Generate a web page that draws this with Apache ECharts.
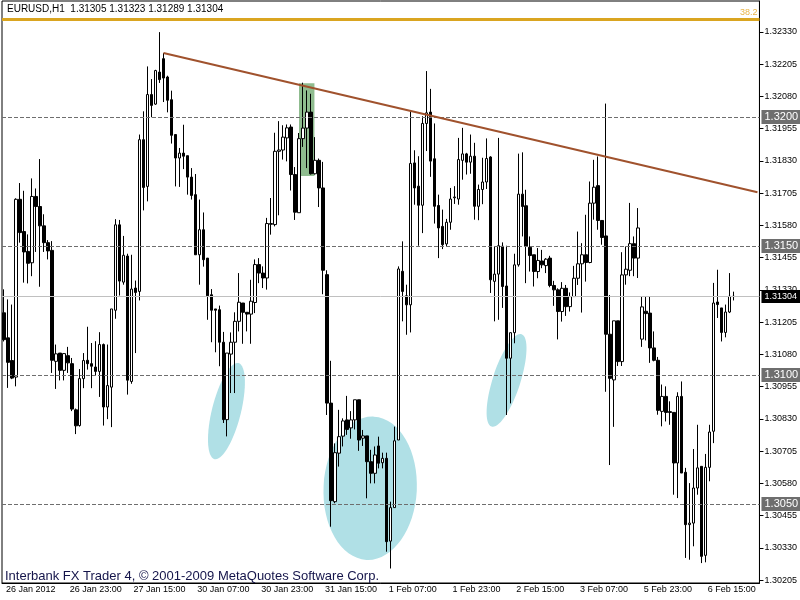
<!DOCTYPE html>
<html>
<head>
<meta charset="utf-8">
<script src="https://cdn.jsdelivr.net/npm/echarts@6.0.0/dist/echarts.min.js"></script>
<style>html,body{margin:0;padding:0;background:#fff}#c{width:800px;height:600px}</style>
</head>
<body>
<div id="c"></div>
<script>
// ---------------- DATA (EURUSD H1) ----------------
const openPrices = [
1.31241,1.31144,1.31056,1.30992,1.31681,1.31556,1.31479,1.31435,1.31692,1.31653,
1.31578,1.31513,1.31483,1.31053,1.31085,1.31018,1.31075,1.31044,1.30865,1.30804,
1.30986,1.31057,1.31044,1.31031,1.31014,1.31118,1.30876,1.30953,1.31251,1.31582,
1.31360,1.31461,1.30975,1.31337,1.31324,1.31912,1.31731,1.32087,1.32050,1.32174,
1.32226,1.32155,1.32067,1.31932,1.31841,1.31860,1.31850,1.31767,1.31699,1.31466,
1.31563,1.31453,1.31311,1.31256,1.31253,1.31127,1.30827,1.31081,1.31127,1.31208,
1.31279,1.31243,1.31236,1.31281,1.31428,1.31395,1.31376,1.31584,1.31583,1.31867,
1.31872,1.31919,1.31961,1.31777,1.31629,1.31916,1.31957,1.32019,1.31780,1.31832,
1.31725,1.31389,1.30891,1.30509,1.30697,1.30763,1.30826,1.30795,1.30826,1.30904,
1.30755,1.30764,1.30664,1.30619,1.30725,1.30660,1.30677,1.30356,1.30486,1.30748,
1.31402,1.31307,1.31272,1.31822,1.31732,1.31658,1.31975,1.32019,1.31838,1.31657,
1.31576,1.31508,1.31592,1.31687,1.31682,1.31832,1.31857,1.31825,1.31848,1.31654,
1.31719,1.31748,1.31845,1.31363,1.31391,1.31499,1.31345,1.31065,1.31164,1.31427,
1.31701,1.31656,1.31495,1.31466,1.31401,1.31442,1.31424,1.31453,1.31347,1.31330,
1.31246,1.31336,1.31265,1.31304,1.31375,1.31431,1.31466,1.31436,1.31666,1.31734,
1.31599,1.31539,1.31158,1.30981,1.31210,1.31052,1.31388,1.31406,1.31509,1.31453,
1.31139,1.31247,1.31240,1.31105,1.31057,1.30859,1.30917,1.30858,1.30855,1.30659,
1.30917,1.30623,1.30420,1.30426,1.30562,1.30646,1.30301,1.30642,1.30782,1.31283,
1.31260,1.31165,1.31244,1.31305
];
const closePrices = [
1.31137,1.31049,1.30988,1.31681,1.31552,1.31477,1.31433,1.31692,1.31653,1.31578,
1.31513,1.31481,1.31057,1.31082,1.31018,1.31083,1.31047,1.30868,1.30803,1.30986,
1.31056,1.31044,1.31034,1.31014,1.31118,1.30876,1.30959,1.31256,1.31582,1.31364,
1.31464,1.30980,1.31333,1.31320,1.31912,1.31727,1.32087,1.32045,1.32180,1.32145,
1.32151,1.32065,1.31929,1.31841,1.31860,1.31848,1.31767,1.31696,1.31466,1.31563,
1.31447,1.31307,1.31251,1.31251,1.31127,1.30827,1.31085,1.31127,1.31208,1.31282,
1.31243,1.31236,1.31286,1.31428,1.31395,1.31376,1.31587,1.31587,1.31867,1.31872,
1.31922,1.31958,1.31777,1.31631,1.31916,1.31957,1.32019,1.31780,1.31832,1.31725,
1.31406,1.30891,1.30513,1.30699,1.30761,1.30822,1.30789,1.30826,1.30904,1.30748,
1.30764,1.30664,1.30619,1.30690,1.30658,1.30677,1.30354,1.30486,1.30745,1.31411,
1.31324,1.31272,1.31820,1.31725,1.31658,1.31975,1.32016,1.31829,1.31654,1.31570,
1.31505,1.31592,1.31682,1.31690,1.31835,1.31857,1.31825,1.31848,1.31654,1.31719,
1.31748,1.31839,1.31369,1.31391,1.31501,1.31343,1.31065,1.31164,1.31427,1.31701,
1.31653,1.31498,1.31463,1.31401,1.31444,1.31427,1.31449,1.31347,1.31330,1.31246,
1.31336,1.31265,1.31304,1.31375,1.31431,1.31466,1.31436,1.31666,1.31728,1.31599,
1.31533,1.31158,1.30987,1.31210,1.31052,1.31388,1.31410,1.31509,1.31453,1.31570,
1.31264,1.31238,1.31105,1.31057,1.30863,1.30917,1.30855,1.30855,1.30659,1.30917,
1.30620,1.30420,1.30426,1.30562,1.30640,1.30297,1.30642,1.30779,1.31279,1.31273,
1.31165,1.31244,1.31305,1.31304
];
const lowPrices = [
1.31130,1.30950,1.30984,1.30956,1.31513,1.31358,1.31355,1.31383,1.31477,1.31342,
1.31477,1.31448,1.31008,1.30946,1.30979,1.30979,1.31008,1.30860,1.30771,1.30800,
1.30949,1.31021,1.30949,1.30997,1.30915,1.30804,1.30829,1.30798,1.31218,1.31308,
1.31350,1.30924,1.30966,1.31085,1.31289,1.31638,1.31673,1.31999,1.32047,1.32132,
1.32058,1.32018,1.31897,1.31731,1.31729,1.31798,1.31699,1.31680,1.31466,1.31350,
1.31420,1.31214,1.31127,1.31088,1.31034,1.30814,1.30762,1.30930,1.30930,1.31169,
1.31121,1.31169,1.31121,1.31240,1.31356,1.31337,1.31331,1.31544,1.31576,1.31619,
1.31835,1.31828,1.31715,1.31601,1.31629,1.31884,1.31802,1.31777,1.31777,1.31651,
1.31313,1.30845,1.30412,1.30503,1.30645,1.30723,1.30768,1.30753,1.30789,1.30706,
1.30725,1.30522,1.30580,1.30580,1.30638,1.30638,1.30315,1.30250,1.30486,1.30748,
1.31208,1.31156,1.31165,1.31660,1.31501,1.31550,1.31868,1.31768,1.31587,1.31453,
1.31488,1.31499,1.31563,1.31663,1.31660,1.31757,1.31777,1.31780,1.31602,1.31600,
1.31662,1.31721,1.31318,1.31208,1.31214,1.31260,1.30845,1.30890,1.31123,1.31420,
1.31537,1.31356,1.31401,1.31343,1.31375,1.31414,1.31395,1.31340,1.31268,1.31138,
1.31207,1.31229,1.31246,1.31304,1.31349,1.31242,1.31362,1.31433,1.31602,1.31563,
1.31505,1.30935,1.30651,1.30799,1.31035,1.31035,1.31350,1.31383,1.31383,1.31376,
1.31109,1.31134,1.31047,1.31053,1.30846,1.30801,1.30820,1.30807,1.30536,1.30523,
1.30620,1.30291,1.30284,1.30336,1.30536,1.30271,1.30274,1.30588,1.30736,1.31221,
1.31130,1.31146,1.31240,1.31289
];
const highPrices = [
1.31332,1.31293,1.31273,1.31685,1.31744,1.31714,1.31545,1.31762,1.31723,1.31837,
1.31623,1.31523,1.31519,1.31118,1.31085,1.31085,1.31109,1.31066,1.30870,1.31023,
1.31085,1.31187,1.31124,1.31131,1.31166,1.31122,1.31118,1.31256,1.31604,1.31601,
1.31539,1.31470,1.31466,1.31366,1.31932,1.32022,1.32196,1.32147,1.32183,1.32329,
1.32248,1.32160,1.32102,1.31932,1.31880,1.31970,1.31850,1.31802,1.31779,1.31680,
1.31630,1.31453,1.31333,1.31256,1.31269,1.31167,1.31085,1.31165,1.31243,1.31395,
1.31279,1.31243,1.31369,1.31448,1.31453,1.31421,1.31609,1.31686,1.31939,1.31984,
1.31968,1.31971,1.31971,1.31806,1.31938,1.32133,1.32103,1.32090,1.31922,1.31839,
1.31826,1.31406,1.31055,1.30735,1.30865,1.30832,1.30919,1.30860,1.30904,1.30904,
1.30787,1.30764,1.30710,1.30723,1.30761,1.30699,1.30699,1.30509,1.30800,1.31421,
1.31518,1.31350,1.32023,1.31871,1.31848,1.32003,1.32178,1.32109,1.31975,1.31699,
1.31641,1.31605,1.31725,1.31732,1.31919,1.31958,1.31861,1.31932,1.31900,1.31738,
1.31842,1.31917,1.31848,1.31500,1.31919,1.31514,1.31501,1.31164,1.31470,1.31858,
1.31863,1.31718,1.31537,1.31466,1.31492,1.31485,1.31453,1.31462,1.31365,1.31336,
1.31360,1.31349,1.31320,1.31423,1.31556,1.31511,1.31621,1.31750,1.31834,1.31847,
1.31599,1.32052,1.31310,1.31210,1.31210,1.31476,1.31498,1.31667,1.31537,1.31647,
1.31305,1.31305,1.31305,1.31169,1.31070,1.30963,1.30956,1.30898,1.30855,1.30933,
1.30975,1.30640,1.30581,1.30713,1.30807,1.30646,1.30694,1.30807,1.31357,1.31408,
1.31260,1.31273,1.31395,1.31323
];
const barSlots = 190;                       // 184 bars + empty chart shift
const xTickIndex  = [0, 16, 32, 48, 64, 80, 96, 112, 128, 144, 160, 176];
const xTickLabels = ['26 Jan 2012','26 Jan 23:00','27 Jan 15:00','30 Jan 07:00','30 Jan 23:00',
                     '31 Jan 15:00','1 Feb 07:00','1 Feb 23:00','2 Feb 15:00','3 Feb 07:00',
                     '5 Feb 23:00','6 Feb 15:00'];
const yTickValues = [1.32330,1.32205,1.32080,1.31955,1.31830,1.31705,1.31580,1.31455,1.31330,
                     1.31205,1.31080,1.30955,1.30830,1.30705,1.30580,1.30455,1.30330,1.30205];
const levelLines = [1.3200, 1.3150, 1.3100, 1.3050];
const lastPrice = 1.31304;
const headerText = 'EURUSD,H1  1.31305 1.31323 1.31289 1.31304';
const footerText = 'Interbank FX Trader 4, \u00A9 2001-2009 MetaQuotes Software Corp.';
const fiboLevel = 1.32378, fiboLabel = '38.2';
const trendStart = [40, 1.32248], trendEnd = [189, 1.31708];
// annotations in data space: [barIndex, price, halfWidthBars, halfHeightPips, tiltDeg]
const ellipses = [[55.8, 1.30860, 3.63, 19.2, 14], [91.86, 1.30561, 11.7, 27.8, 3], [126.07, 1.30979, 3.47, 18.8, 18]];
const greenBox = [74, 77.87, 1.321306, 1.317713];

// ---------------- CHART ----------------
const FONT = '"Liberation Sans", Arial, sans-serif';
const categories = Array.from({length: barSlots}, (_, i) => String(i));
const candles = openPrices.map((o, i) => [o, closePrices[i], lowPrices[i], highPrices[i]]);
const tickSet = new Set(xTickIndex);

const chart = echarts.init(document.getElementById('c'), null, {renderer: 'canvas'});
const levelItems = levelLines.map(v => ({
  yAxis: v,
  lineStyle: {type: [4, 2], color: '#6e6e6e', width: 1},
  label: {show: true, position: 'end', formatter: v.toFixed(4), color: '#fff', backgroundColor: '#6e6e6e',
          fontSize: 11, fontFamily: FONT, padding: [2, 4, 1, 3], distance: 2}
}));
chart.setOption({
  animation: false,
  backgroundColor: '#fff',
  grid: {left: 2, top: 1, width: 758, height: 582, show: true, borderColor: '#000', borderWidth: 1},
  xAxis: {
    type: 'category', data: categories, boundaryGap: true,
    axisLine: {lineStyle: {color: '#000', width: 1}},
    axisTick: {alignWithLabel: true, interval: (i) => tickSet.has(i), length: 4, lineStyle: {color: '#000'}},
    axisLabel: {interval: (i) => tickSet.has(i), formatter: (v, i) => xTickLabels[xTickIndex.indexOf(i)],
                align: 'left', fontSize: 9, fontFamily: FONT, color: '#000', margin: 2, padding: [0, 0, 0, 2]},
    splitLine: {show: false}
  },
  yAxis: {
    type: 'value', position: 'right', min: 1.301938, max: 1.324496,
    splitLine: {show: false},
    axisLine: {show: true, lineStyle: {color: '#000'}},
    axisTick: {show: true, customValues: yTickValues, length: 4, lineStyle: {color: '#000'}},
    axisLabel: {customValues: yTickValues, formatter: v => v.toFixed(5), fontSize: 9, fontFamily: FONT, color: '#000', margin: 5}
  },
  series: [{
    type: 'candlestick',
    data: candles,
    barWidth: 3,
    itemStyle: {color: '#fff', color0: '#000', borderColor: '#000', borderColor0: '#000', borderWidth: 1},
    emphasis: {disabled: true},
    markLine: {
      silent: true, animation: false, symbol: ['none', 'none'], precision: 6,
      data: [
        ...levelItems,
        {yAxis: lastPrice, lineStyle: {type: 'solid', color: '#c0c0c0', width: 1},
         label: {show: true, position: 'end', formatter: lastPrice.toFixed(5), color: '#fff', backgroundColor: '#000',
                 fontSize: 9, fontFamily: FONT, padding: [2, 4, 2, 3], distance: 2}},
        {yAxis: fiboLevel, lineStyle: {type: 'solid', color: '#DAA520', width: 3},
         label: {show: true, position: 'insideEndTop', formatter: fiboLabel, color: '#E8B448', fontSize: 9, fontFamily: FONT, distance: 2}},
        [{coord: trendStart, lineStyle: {type: 'solid', color: '#A0522D', width: 2}, label: {show: false}},
         {coord: trendEnd}]
      ]
    }
  }]
});

function toPx(idx, price) {
  const i0 = Math.floor(idx), f = idx - i0;
  const a = chart.convertToPixel({gridIndex: 0}, [i0, price]);
  const b = chart.convertToPixel({gridIndex: 0}, [i0 + 1, price]);
  return [a[0] + (b[0] - a[0]) * f, a[1]];
}
const barPx = toPx(1, lastPrice)[0] - toPx(0, lastPrice)[0];
const pipPx = Math.abs(toPx(0, 1.3100)[1] - toPx(0, 1.3101)[1]);
const gfx = ellipses.map(e => {
  const c = toPx(e[0], e[1]);
  return {type: 'ellipse', x: c[0], y: c[1], rotation: -e[4] * Math.PI / 180, z: 1, silent: true,
          shape: {cx: 0, cy: 0, rx: e[2] * barPx, ry: e[3] * pipPx}, style: {fill: '#B0E0E6'}};
});
const g0 = toPx(greenBox[0], greenBox[2]), g1 = toPx(greenBox[1], greenBox[3]);
gfx.push({type: 'rect', z: 1, silent: true, shape: {x: g0[0], y: g0[1], width: g1[0] - g0[0], height: g1[1] - g0[1]},
          style: {fill: '#8FBC8F'}});
gfx.push({type: 'text', x: 7, y: 4, z: 10, silent: true, style: {text: headerText, font: '10px ' + FONT, fill: '#000'}});
gfx.push({type: 'text', x: 5, y: 570, z: 10, silent: true, style: {text: footerText, font: '13px ' + FONT, fill: '#14144A'}});
chart.setOption({graphic: {elements: gfx}});
</script>
</body>
</html>
